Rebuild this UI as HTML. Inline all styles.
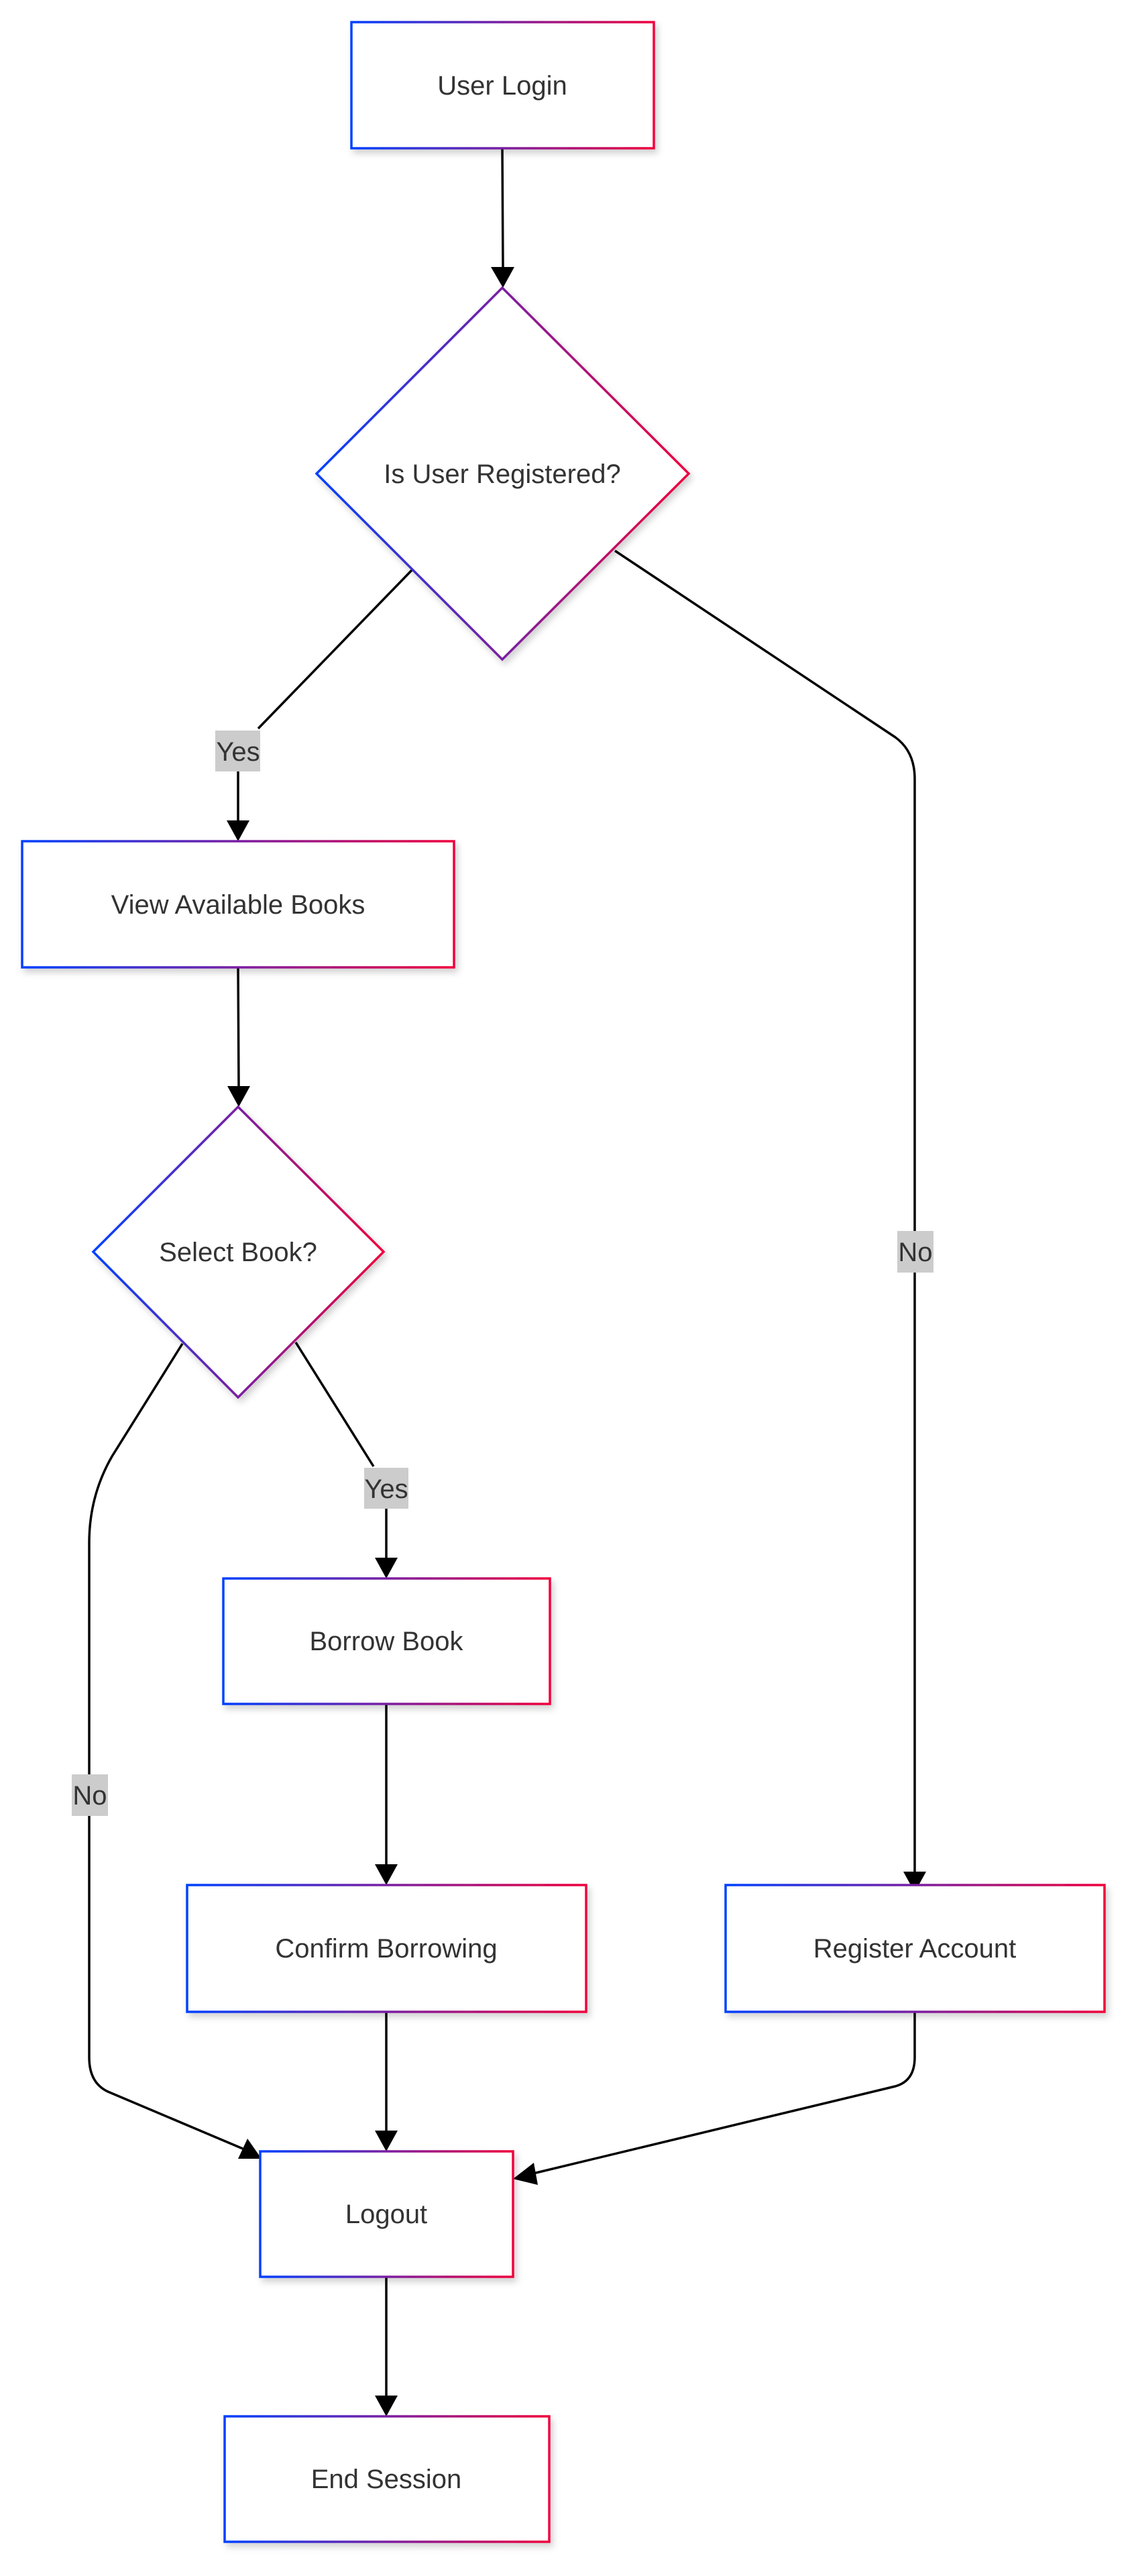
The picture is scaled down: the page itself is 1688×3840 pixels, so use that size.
<!DOCTYPE html>
<html><head><meta charset="utf-8"><style>
html,body{margin:0;padding:0;background:#fff;}
svg{display:block;}
text{font-family:"Liberation Sans",Arial,sans-serif;font-size:40px;fill:#333;}
</style></head><body>
<svg width="1688" height="3840" viewBox="0 0 1688 3840" xmlns="http://www.w3.org/2000/svg">
<defs>
<linearGradient id="g" x1="0" y1="0" x2="1" y2="0">
<stop offset="0" stop-color="#0040ff"/><stop offset="0.5" stop-color="#7a1fa2"/><stop offset="1" stop-color="#f0003c"/>
</linearGradient>
<filter id="sh" x="-10%" y="-10%" width="130%" height="130%">
<feDropShadow dx="4" dy="6" stdDeviation="5" flood-color="#000" flood-opacity="0.18"/>
</filter>
</defs>
<g fill="none" stroke="#000" stroke-width="3.5">
<path d="M749 221 L750 400"/>
<path d="M614 850 L385 1086"/><path d="M355 1150 L355 1226"/>
<path d="M917 821 L1335 1099 Q1364 1120 1364 1161 L1364 2790"/>
<path d="M355 1442 L356 1620"/>
<path d="M441 2001 L557 2186"/><path d="M576 2249 L576 2324"/>
<path d="M272 2003 L167 2171 Q133 2230 133 2300 L133 3067 Q133 3105 161 3118 L362 3203"/>
<path d="M576 2540 L576 2780"/>
<path d="M576 2999 L576 3177"/>
<path d="M1364 2999 L1364 3067 Q1364 3102 1335 3110 L795 3240"/>
<path d="M576 3394 L576 3572"/>
</g>
<g fill="#000">
<polygon points="732,398 767,398 750,429"/>
<polygon points="338,1223 372,1223 355,1254"/>
<polygon points="1347,2790 1381,2790 1364,2821"/>
<polygon points="339,1619 373,1619 356,1650"/>
<polygon points="559,2322 593,2322 576,2353"/>
<polygon points="559,2779 593,2779 576,2810"/>
<polygon points="559,3176 593,3176 576,3207"/>
<polygon points="559,3571 593,3571 576,3602"/>
<polygon points="390,3218 355,3218 369,3188"/>
<polygon points="765,3248 796,3224 802,3257"/>
</g>
<g fill="#fff" stroke="url(#g)" stroke-width="3.5" filter="url(#sh)">
<rect x="524" y="33" width="451" height="188"/>
<polygon points="749,429 1027,706 749,983 472,706"/>
<rect x="33" y="1254" width="644" height="188"/>
<polygon points="355,1650 572,1866 355,2083 139,1866"/>
<rect x="333" y="2353" width="487" height="187"/>
<rect x="279" y="2810" width="595" height="189"/>
<rect x="1082" y="2810" width="565" height="189"/>
<rect x="388" y="3207" width="377" height="187"/>
<rect x="335" y="3602" width="484" height="187"/>
</g>
<g fill="#ccc">
<rect x="321" y="1089" width="67" height="61"/>
<rect x="1338" y="1835" width="54" height="62"/>
<rect x="543" y="2188" width="66" height="61"/>
<rect x="107" y="2645" width="54" height="62"/>
</g>
<g text-anchor="middle">
<text x="749" y="141">User Login</text>
<text x="749" y="720">Is User Registered?</text>
<text x="355" y="1362">View Available Books</text>
<text x="355" y="1880">Select Book?</text>
<text x="576" y="2460">Borrow Book</text>
<text x="576" y="2918">Confirm Borrowing</text>
<text x="1364" y="2918">Register Account</text>
<text x="576" y="3314">Logout</text>
<text x="576" y="3709">End Session</text>
<text x="355" y="1134">Yes</text>
<text x="1365" y="1880">No</text>
<text x="576" y="2233">Yes</text>
<text x="134" y="2690">No</text>
</g>
</svg>
</body></html>
